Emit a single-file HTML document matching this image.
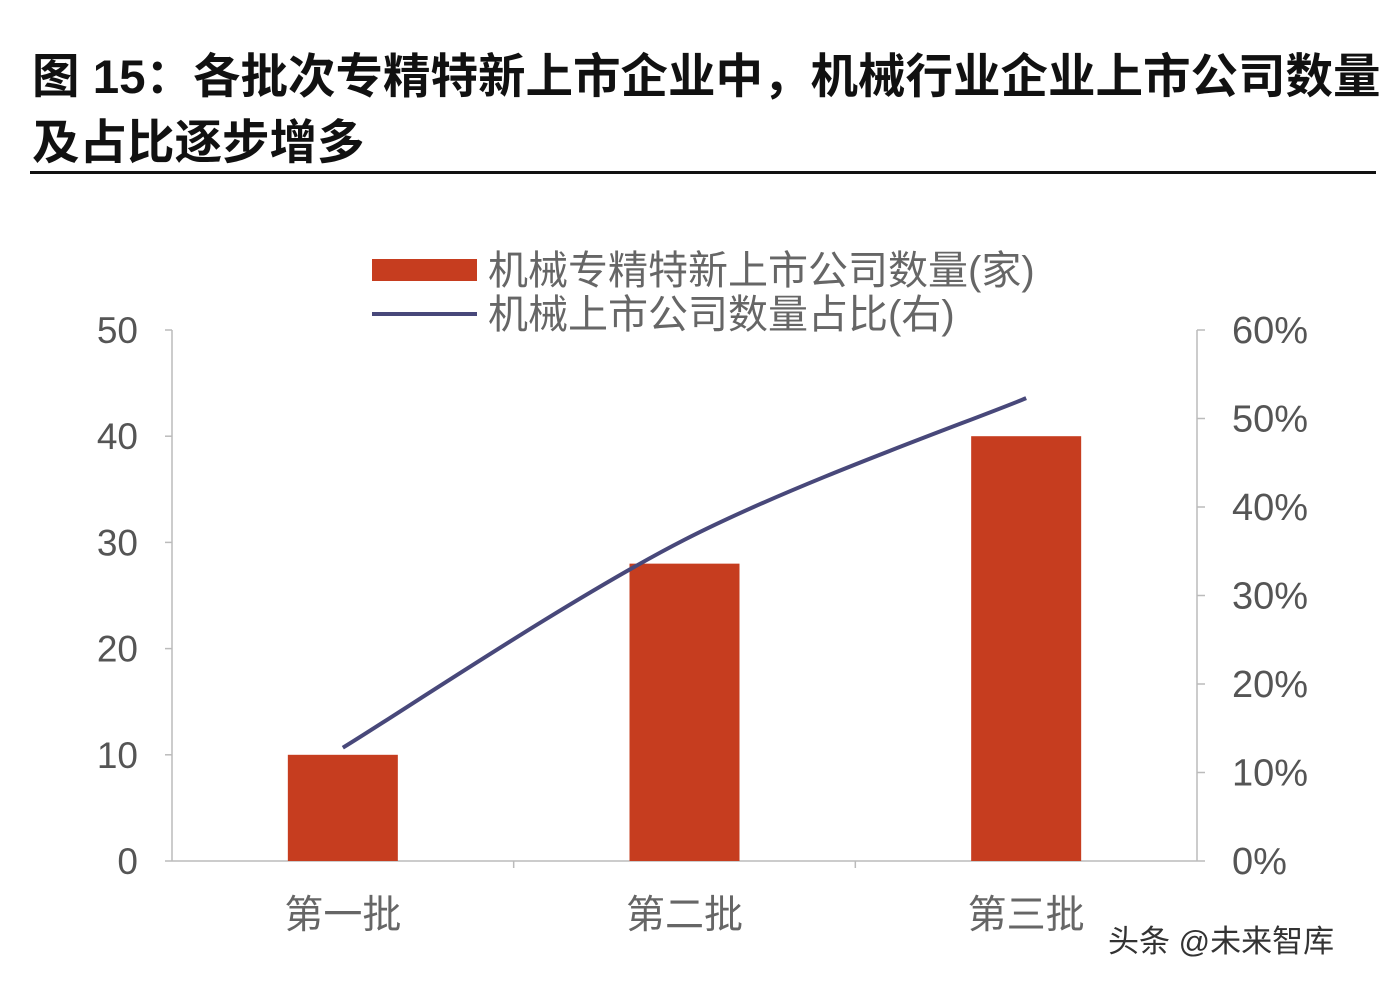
<!DOCTYPE html>
<html><head><meta charset="utf-8"><style>
body{margin:0;background:#fff;width:1392px;height:986px;overflow:hidden;font-family:"Liberation Sans","Noto Sans CJK SC",sans-serif}
.t{position:absolute;left:32px;font-weight:bold;font-size:47.5px;color:#111;white-space:nowrap}
</style></head><body>
<div class="t" style="top:38px">图 15：各批次专精特新上市企业中，机械行业企业上市公司数量</div>
<div class="t" style="top:104px">及占比逐步增多</div>
<div style="position:absolute;left:30px;top:171px;width:1346px;height:3px;background:#111"></div>
<svg id="c" width="1392" height="986" style="position:absolute;left:0;top:0"></svg>
<script>
const categories=["第一批","第二批","第三批"];
const counts=[10,28,40];
const shares=[12.8,36.3,52.3];
const leftTicks=[0,10,20,30,40,50];
const rightTicks=[0,10,20,30,40,50,60];
const svg=document.getElementById('c');const NS='http://www.w3.org/2000/svg';
function mk(t,a,p){const e=document.createElementNS(NS,t);for(const k in a)e.setAttribute(k,a[k]);(p||svg).appendChild(e);return e;}
const x0=172,x1=1197,yb=861,yt=330;
const yL=v=>yb-(v/50)*(yb-yt), yR=v=>yb-(v/60)*(yb-yt);
const bw=(x1-x0)/categories.length, xc=i=>x0+bw*(i+0.5);
const g='#bbb';
let e=mk('line',{x1:x0,y1:yt,x2:x0,y2:yb,stroke:g,'stroke-width':1.5});
e=mk('line',{x1:x1,y1:yt,x2:x1,y2:yb,stroke:g,'stroke-width':1.5});
e=mk('line',{x1:x0,y1:yb,x2:x1,y2:yb,stroke:g,'stroke-width':1.5});
leftTicks.forEach(v=>{mk('line',{x1:x0-7,y1:yL(v),x2:x0,y2:yL(v),stroke:g,'stroke-width':1.5});
const t=mk('text',{x:138,y:yL(v)+13,'text-anchor':'end','font-size':37,fill:'#555'});t.textContent=v;
});
rightTicks.forEach(v=>{mk('line',{x1:x1,y1:yR(v),x2:x1+8,y2:yR(v),stroke:g,'stroke-width':1.5});
const t=mk('text',{x:1232,y:yR(v)+13,'font-size':38,fill:'#555'});t.textContent=v+'%';
});
for(let i=1;i<categories.length;i++)mk('line',{x1:x0+bw*i,y1:yb,x2:x0+bw*i,y2:yb+7,stroke:g,'stroke-width':1.5});
categories.forEach((c,i)=>{
const r=mk('rect',{x:xc(i)-55,y:yL(counts[i]),width:110,height:yb-yL(counts[i]),fill:'#c63d1f'});

const t=mk('text',{x:xc(i),y:928,'text-anchor':'middle','font-size':39,fill:'#666'});t.textContent=c;
});
const pts=shares.map((v,i)=>[xc(i),yR(v)]);
let d='M'+pts[0][0]+','+pts[0][1];
for(let i=0;i<pts.length-1;i++){const p0=pts[i-1]||pts[i],p1=pts[i],p2=pts[i+1],p3=pts[i+2]||p2;
d+=' C'+(p1[0]+(p2[0]-p0[0])/6)+','+(p1[1]+(p2[1]-p0[1])/6)+' '+(p2[0]-(p3[0]-p1[0])/6)+','+(p2[1]-(p3[1]-p1[1])/6)+' '+p2[0]+','+p2[1];}
const ln=mk('path',{d:d,fill:'none',stroke:'#48487a','stroke-width':4});

const lr=mk('rect',{x:372,y:259,width:105,height:22,fill:'#c63d1f'});
const ll=mk('line',{x1:372,y1:314,x2:477,y2:314,stroke:'#48487a','stroke-width':4});
let t=mk('text',{x:488,y:284,'font-size':40,fill:'#666'});t.textContent='机械专精特新上市公司数量(家)';
t=mk('text',{x:488,y:328,'font-size':40,fill:'#666'});t.textContent='机械上市公司数量占比(右)';
t=mk('text',{x:1108,y:952,'font-size':31,fill:'#333'});t.textContent='头条 @未来智库';
</script>
</body></html>
